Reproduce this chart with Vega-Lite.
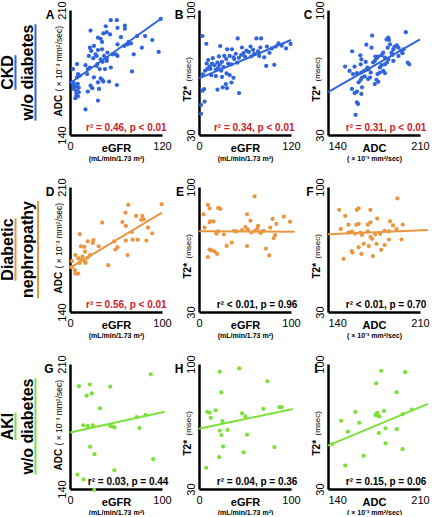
{
  "$schema": "https://vega.github.io/schema/vega-lite/v6.json",
  "background": "white",
  "padding": {"left": -1, "top": 0, "right": 0, "bottom": 0},
  "columns": 4,
  "bounds": "flush",
  "spacing": {"row": 52, "column": 37},
  "datasets": {
    "A": [
      {"x":53.2,"y":204.3},{"x":61.1,"y":204.3},{"x":46.6,"y":200.9},{"x":71.6,"y":201.3},{"x":71.6,"y":199.5},{"x":62,"y":200},{"x":26.8,"y":198.5},{"x":47.9,"y":197.6},{"x":43.5,"y":196.9},{"x":52.3,"y":196.3},{"x":87.5,"y":195.4},{"x":98,"y":195.4},{"x":66.4,"y":194.8},{"x":36.5,"y":194.5},{"x":40,"y":193.9},{"x":107.3,"y":193.2},{"x":41.8,"y":192.1},{"x":76.5,"y":192.1},{"x":79.6,"y":191.3},{"x":62,"y":190.8},{"x":75.2,"y":190.8},{"x":31.2,"y":189.9},{"x":70.8,"y":189.9},{"x":25.9,"y":188.9},{"x":93.7,"y":188.9},{"x":41.8,"y":188},{"x":36.5,"y":187.6},{"x":27.7,"y":187.1},{"x":118.3,"y":205},{"x":115.7,"y":186.5},{"x":48.8,"y":186.2},{"x":83.1,"y":185.2},{"x":33.4,"y":185.2},{"x":55.4,"y":185.2},{"x":59.8,"y":185.2},{"x":24.6,"y":184.3},{"x":44.4,"y":184.3},{"x":34.7,"y":184.3},{"x":62,"y":184.3},{"x":30.3,"y":183},{"x":47.9,"y":183},{"x":40,"y":182.4},{"x":47.9,"y":181.5},{"x":42.6,"y":181},{"x":9.2,"y":179.7},{"x":35.6,"y":179.7},{"x":20.2,"y":179.1},{"x":34.7,"y":178.7},{"x":25.9,"y":177.8},{"x":53.2,"y":177.8},{"x":3.9,"y":176.9},{"x":23.3,"y":176.9},{"x":45.7,"y":176.9},{"x":38.7,"y":176.9},{"x":80.9,"y":175.6},{"x":10.5,"y":174.1},{"x":22.4,"y":174.1},{"x":12.7,"y":173.2},{"x":9.2,"y":172.3},{"x":31.2,"y":172.3},{"x":40,"y":171.7},{"x":42.2,"y":170.8},{"x":43.5,"y":169.9},{"x":51,"y":169.9},{"x":2.6,"y":169.5},{"x":4.8,"y":169},{"x":36.5,"y":169.5},{"x":61.1,"y":168},{"x":10.1,"y":168.6},{"x":4.8,"y":167.6},{"x":7,"y":167.3},{"x":26.8,"y":167.6},{"x":11.4,"y":166.5},{"x":4.8,"y":165.8},{"x":29,"y":166.2},{"x":37.8,"y":165.8},{"x":8.3,"y":164.9},{"x":23.3,"y":164.3},{"x":8.3,"y":163.6},{"x":11.4,"y":164},{"x":8.3,"y":162.1},{"x":10.5,"y":161.7},{"x":7,"y":160.6},{"x":36.5,"y":159.3},{"x":20.2,"y":154.3}
    ],
    "B": [
      {"x":4.5,"y":85.4},{"x":9.5,"y":81.1},{"x":50.5,"y":84.1},{"x":75,"y":84.1},{"x":81,"y":84.1},{"x":27.7,"y":79.8},{"x":36.8,"y":78},{"x":67.3,"y":79.5},{"x":88.6,"y":79.5},{"x":103.6,"y":81.3},{"x":113.6,"y":78.5},{"x":119.5,"y":81},{"x":65,"y":76.5},{"x":61.8,"y":77.2},{"x":70.5,"y":77.7},{"x":58,"y":75.8},{"x":55,"y":74.8},{"x":48,"y":75.5},{"x":45,"y":73.5},{"x":40,"y":74.3},{"x":33,"y":74.3},{"x":35.5,"y":72.5},{"x":46,"y":72.5},{"x":52,"y":73.2},{"x":60,"y":73.8},{"x":77,"y":76.8},{"x":78.5,"y":74.3},{"x":85,"y":73.5},{"x":87.7,"y":68.7},{"x":98.2,"y":69.3},{"x":92,"y":76},{"x":95,"y":78.5},{"x":100,"y":79.5},{"x":108,"y":80},{"x":80,"y":79},{"x":72,"y":75.5},{"x":68,"y":74},{"x":30,"y":71},{"x":27,"y":69.5},{"x":24,"y":70.5},{"x":20,"y":69},{"x":17,"y":70},{"x":14,"y":68.5},{"x":11,"y":67},{"x":8,"y":66},{"x":5,"y":64},{"x":10,"y":70},{"x":15,"y":67},{"x":22,"y":66.5},{"x":25,"y":67.8},{"x":29,"y":66},{"x":32,"y":68},{"x":38,"y":70},{"x":42,"y":69.5},{"x":50,"y":70.5},{"x":16,"y":63.5},{"x":22,"y":63},{"x":30,"y":62.5},{"x":40,"y":63.5},{"x":36,"y":64.5},{"x":45,"y":62},{"x":6.8,"y":55.7},{"x":4.5,"y":54.8},{"x":24.1,"y":55.4},{"x":30.9,"y":56.7},{"x":36.4,"y":56.2},{"x":42.3,"y":59.4},{"x":35,"y":58.5},{"x":52.3,"y":53.5},{"x":7.3,"y":48.7},{"x":2.7,"y":46.9},{"x":2.7,"y":41.9},{"x":12,"y":72},{"x":18,"y":73},{"x":26,"y":74},{"x":43,"y":78},{"x":56,"y":79}
    ],
    "C": [
      {"x":173.6,"y":85.7},{"x":199.2,"y":87.6},{"x":185.9,"y":84.5},{"x":184.6,"y":83.5},{"x":186.4,"y":83.2},{"x":169.2,"y":80.6},{"x":173.1,"y":78.9},{"x":158.4,"y":76.9},{"x":189.7,"y":78},{"x":192.3,"y":80.2},{"x":190.5,"y":79.3},{"x":193.6,"y":78.9},{"x":182,"y":76.1},{"x":188.4,"y":76.1},{"x":189,"y":74.8},{"x":195.6,"y":77.1},{"x":196.7,"y":75.8},{"x":164.6,"y":74.6},{"x":176.1,"y":73.9},{"x":178.2,"y":73.9},{"x":180.7,"y":74.6},{"x":176.9,"y":72.8},{"x":183.3,"y":73.3},{"x":165.4,"y":72.4},{"x":185.9,"y":72.4},{"x":189.7,"y":71.5},{"x":175.6,"y":71.5},{"x":200.7,"y":70.6},{"x":201.8,"y":69.6},{"x":153,"y":68.3},{"x":160.2,"y":68.3},{"x":164.9,"y":69.6},{"x":180.7,"y":69.1},{"x":183.3,"y":69.6},{"x":184.9,"y":70.6},{"x":170,"y":67.8},{"x":169.2,"y":66.5},{"x":167.4,"y":65.9},{"x":171,"y":66.9},{"x":159,"y":64.1},{"x":162,"y":64.6},{"x":165.4,"y":65},{"x":179.5,"y":65},{"x":177.7,"y":64.1},{"x":182,"y":65.9},{"x":183.3,"y":64.6},{"x":165.9,"y":62.2},{"x":164.9,"y":60.9},{"x":168,"y":62.8},{"x":176.9,"y":60.9},{"x":178.2,"y":59.8},{"x":175.6,"y":58.5},{"x":158.2,"y":55.8},{"x":162,"y":54.3},{"x":160.2,"y":53.5},{"x":165.9,"y":56.7},{"x":170.5,"y":61.3},{"x":172,"y":62.2},{"x":162,"y":48.3},{"x":162.8,"y":47.4},{"x":161,"y":41.3},{"x":165.4,"y":53},{"x":174.3,"y":70.6},{"x":187.2,"y":80.8},{"x":193.6,"y":74.3},{"x":179.5,"y":67.8},{"x":172.5,"y":65},{"x":163.3,"y":59.5},{"x":197.4,"y":78},{"x":185.4,"y":78.9},{"x":168.7,"y":70.9},{"x":156.4,"y":65.9}
    ],
    "D": [
      {"x":99.6,"y":200.4},{"x":63.3,"y":200},{"x":60.3,"y":195.7},{"x":71.9,"y":193.8},{"x":78.6,"y":193.8},{"x":80,"y":191.9},{"x":77.5,"y":191.6},{"x":35,"y":190.1},{"x":57,"y":190.4},{"x":60.7,"y":188.2},{"x":67.4,"y":184.8},{"x":84.8,"y":187.3},{"x":89.3,"y":184.1},{"x":10.7,"y":183.6},{"x":68.1,"y":180.5},{"x":73.7,"y":180.5},{"x":83,"y":180},{"x":60.7,"y":180},{"x":25.6,"y":180.3},{"x":19.3,"y":179.5},{"x":48,"y":179.5},{"x":51.6,"y":176.3},{"x":31.1,"y":176.8},{"x":15.6,"y":176.5},{"x":11.9,"y":176.8},{"x":24.8,"y":178.7},{"x":16.3,"y":173.8},{"x":21.9,"y":171.9},{"x":5.9,"y":171.9},{"x":62.6,"y":171.9},{"x":49.3,"y":175},{"x":41.5,"y":166.2},{"x":11.9,"y":169.2},{"x":9,"y":170},{"x":13.5,"y":171},{"x":10.5,"y":167.5},{"x":2.2,"y":168.5},{"x":1.5,"y":165.1},{"x":5.2,"y":163.4},{"x":8.9,"y":161.5},{"x":6,"y":161.5},{"x":16.3,"y":168.3},{"x":19,"y":170.5},{"x":17,"y":167.5}
    ],
    "E": [
      {"x":60.4,"y":94.7},{"x":9.6,"y":90},{"x":11.5,"y":88},{"x":20.9,"y":88.3},{"x":23.3,"y":87.8},{"x":5,"y":84.7},{"x":52.2,"y":84.7},{"x":92.2,"y":83.4},{"x":99,"y":80.6},{"x":80,"y":82.1},{"x":55.9,"y":81.1},{"x":12.2,"y":80.7},{"x":15.9,"y":80.7},{"x":11.5,"y":80.2},{"x":6,"y":77.3},{"x":64.2,"y":78.3},{"x":63.5,"y":76.8},{"x":77.4,"y":77.3},{"x":84.1,"y":79.4},{"x":50.4,"y":77.6},{"x":53,"y":76.3},{"x":46.7,"y":75.8},{"x":40.4,"y":75.2},{"x":38.1,"y":75.5},{"x":20.8,"y":75.2},{"x":18.9,"y":73.9},{"x":27,"y":73.4},{"x":35.6,"y":68.9},{"x":30.1,"y":67},{"x":52.2,"y":66.9},{"x":57,"y":74.5},{"x":61,"y":75.5},{"x":67,"y":74.2},{"x":70,"y":75.5},{"x":66.5,"y":74.8},{"x":82.6,"y":73},{"x":81.1,"y":71.3},{"x":72.6,"y":65.5},{"x":76.3,"y":61.7},{"x":11.5,"y":65},{"x":13.3,"y":64.5},{"x":17,"y":63.9},{"x":19.6,"y":62.6},{"x":9.6,"y":60.8}
    ],
    "F": [
      {"x":192.8,"y":93.6},{"x":148.5,"y":87.2},{"x":163.3,"y":88.1},{"x":162,"y":87.2},{"x":153.1,"y":83.8},{"x":172.3,"y":87.2},{"x":177.4,"y":82.3},{"x":187.2,"y":80.8},{"x":149.7,"y":76.5},{"x":155.6,"y":78.9},{"x":163.3,"y":79.4},{"x":161.6,"y":78.9},{"x":170.3,"y":78.9},{"x":172.3,"y":80.2},{"x":196.8,"y":78.9},{"x":189.5,"y":78.5},{"x":192.1,"y":76.4},{"x":186.4,"y":75.2},{"x":183.1,"y":75.5},{"x":158.2,"y":75},{"x":160.7,"y":73.9},{"x":164.6,"y":74.5},{"x":165.9,"y":73.1},{"x":155.6,"y":74.5},{"x":170.3,"y":75.2},{"x":175.9,"y":73.4},{"x":179.7,"y":73.8},{"x":186.4,"y":70.6},{"x":195.9,"y":70.6},{"x":172.3,"y":72},{"x":173.6,"y":71},{"x":167.2,"y":68.2},{"x":171,"y":66.9},{"x":176.9,"y":68.2},{"x":158.2,"y":64.1},{"x":158.7,"y":63.3},{"x":165.4,"y":62.6},{"x":174.2,"y":61.3},{"x":151.9,"y":59.8},{"x":183.1,"y":67.5},{"x":180.5,"y":64.8},{"x":163.3,"y":66.2}
    ],
    "G": [
      {"x":87.8,"y":204.2},{"x":9.7,"y":197.6},{"x":21.5,"y":198.5},{"x":43.7,"y":197.3},{"x":18.1,"y":192.3},{"x":23.7,"y":193.5},{"x":32.6,"y":185.2},{"x":14.4,"y":175.7},{"x":19.3,"y":175.3},{"x":24.8,"y":175.7},{"x":43.7,"y":175.3},{"x":45.6,"y":175.1},{"x":48.5,"y":174.5},{"x":72.6,"y":180.3},{"x":82.2,"y":181.5},{"x":75.6,"y":174.1},{"x":21.9,"y":163.6},{"x":26.7,"y":159.5},{"x":90.4,"y":156.7},{"x":48.2,"y":150.5},{"x":8.1,"y":148},{"x":14.8,"y":145.4},{"x":26.3,"y":139.5}
    ],
    "H": [
      {"x":22.6,"y":95.7},{"x":43.7,"y":97.5},{"x":74.4,"y":90.3},{"x":24.4,"y":84.1},{"x":8.9,"y":73.2},{"x":11.5,"y":72.7},{"x":18.1,"y":74.1},{"x":12.8,"y":69.8},{"x":25.6,"y":68},{"x":46.7,"y":72.4},{"x":50.4,"y":70.7},{"x":70,"y":74.9},{"x":87.4,"y":75.8},{"x":90,"y":75.8},{"x":22.6,"y":62.7},{"x":24.4,"y":60.2},{"x":31.1,"y":63.1},{"x":52.2,"y":60.4},{"x":26.3,"y":53.9},{"x":48.5,"y":50.5},{"x":81.9,"y":53.5},{"x":21.9,"y":47.8},{"x":7.8,"y":41.9}
    ],
    "I": [
      {"x":180.5,"y":96.2},{"x":198.7,"y":95.4},{"x":176.7,"y":89.2},{"x":192.1,"y":84.2},{"x":160.8,"y":73.2},{"x":150,"y":68.2},{"x":163.8,"y":67.1},{"x":155.1,"y":62.1},{"x":143.3,"y":55.2},{"x":177.4,"y":72.7},{"x":178.2,"y":70.9},{"x":176.1,"y":71.5},{"x":179.2,"y":70.6},{"x":182.6,"y":73.7},{"x":196.7,"y":71.9},{"x":203.8,"y":74.5},{"x":183.8,"y":64},{"x":192.3,"y":63.5},{"x":178.7,"y":61.3},{"x":183.8,"y":55.6},{"x":196.7,"y":52.3},{"x":167.2,"y":48.6},{"x":153.1,"y":43.1}
    ],
    "A_fit": [{"x":0,"y":169},{"x":120,"y":205.5}],
    "B_fit": [{"x":0,"y":61.7},{"x":120,"y":83.2}],
    "C_fit": [{"x":140,"y":54},{"x":210,"y":83.5}],
    "D_fit": [{"x":0,"y":164.7},{"x":100,"y":195.7}],
    "E_fit": [{"x":0,"y":75.2},{"x":104,"y":74.9}],
    "F_fit": [{"x":140,"y":73.5},{"x":216,"y":75.9}],
    "G_fit": [{"x":0,"y":171.6},{"x":103,"y":183.3}],
    "H_fit": [{"x":0,"y":63.7},{"x":102,"y":74.8}],
    "I_fit": [{"x":140,"y":54.3},{"x":216,"y":77.7}]
  },
  "concat": [
    {
      "width": 20, "height": 125,
      "layer": [
        {"data": {"values": [{"line": "1", "text": "CKD"}, {"line": "2", "text": "w/o diabetes"}]},
         "mark": {"type": "text", "angle": 270, "align": "center", "baseline": "alphabetic", "fontSize": 16, "fontWeight": "bold", "color": "#000"},
         "encoding": {"x": {"field": "line", "type": "ordinal", "scale": {"type": "point", "domain": ["1", "2"], "padding": 0}, "axis": null},
                      "y": {"datum": 50, "type": "quantitative", "scale": {"domain": [0, 100]}, "axis": null},
                      "text": {"field": "text"}}},
        {"data": {"values": [{"u": 1}]},
         "mark": {"type": "rule", "color": "#2f64dc", "strokeWidth": 2, "xOffset": 2.5},
         "encoding": {"x": {"datum": "1", "type": "ordinal", "axis": null}, "y": {"datum": 36.2, "type": "quantitative", "axis": null}, "y2": {"datum": 63.8}}},
        {"data": {"values": [{"u": 1}]},
         "mark": {"type": "rule", "color": "#2f64dc", "strokeWidth": 2, "xOffset": 2.5},
         "encoding": {"x": {"datum": "2", "type": "ordinal", "axis": null}, "y": {"datum": 11.5, "type": "quantitative", "axis": null}, "y2": {"datum": 88.5}}}
      ]
    },
    {
      "width": 92, "height": 125, "title": "A",
      "layer": [
        {"data": {"name": "A"}, "mark": {"type": "circle", "size": 18, "opacity": 1, "color": "#2f64dc"},
         "encoding": {
           "x": {"field": "x", "type": "quantitative", "scale": {"domain": [0, 120], "nice": false, "zero": false}, "axis": {"orient": "bottom", "values": [0, 120], "title": "eGFR", "titleY": 16}},
           "y": {"field": "y", "type": "quantitative", "scale": {"domain": [140, 210], "nice": false, "zero": false}, "axis": {"orient": "left", "values": [140, 210], "title": "ADC", "titleY": 106}}}},
        {"data": {"name": "A_fit"}, "mark": {"type": "line", "color": "#2f64dc", "strokeWidth": 2},
         "encoding": {
           "x": {"field": "x", "type": "quantitative", "axis": {"orient": "bottom", "labels": false, "domain": false, "title": "(mL/min/1.73 m²)", "titleY": 25, "titleFontSize": 7}},
           "y": {"field": "y", "type": "quantitative", "axis": {"orient": "left", "labels": false, "domain": false, "title": "( × 10⁻³ mm²/sec)", "titleY": 81, "titleFontSize": 8.5, "titleFontWeight": "normal"}}}},
        {"data": {"values": [{"t": "r² = 0.46, p < 0.01"}]}, "mark": {"type": "text", "align": "right", "baseline": "alphabetic", "fontSize": 10, "fontWeight": "bold", "color": "#d0202a"},
         "encoding": {"x": {"datum": 126, "type": "quantitative", "axis": null}, "y": {"datum": 142.3, "type": "quantitative", "axis": null}, "text": {"field": "t"}}}
      ],
      "resolve": {"axis": {"x": "independent", "y": "independent"}}
    },
    {
      "width": 92, "height": 125, "title": "B",
      "layer": [
        {"data": {"name": "B"}, "mark": {"type": "circle", "size": 18, "opacity": 1, "color": "#2f64dc"},
         "encoding": {
           "x": {"field": "x", "type": "quantitative", "scale": {"domain": [0, 120], "nice": false, "zero": false}, "axis": {"orient": "bottom", "values": [0, 120], "title": "eGFR", "titleY": 16}},
           "y": {"field": "y", "type": "quantitative", "scale": {"domain": [30, 100], "nice": false, "zero": false}, "axis": {"orient": "left", "values": [30, 100], "title": "T2*", "titleY": 91}}}},
        {"data": {"name": "B_fit"}, "mark": {"type": "line", "color": "#2f64dc", "strokeWidth": 2},
         "encoding": {
           "x": {"field": "x", "type": "quantitative", "axis": {"orient": "bottom", "labels": false, "domain": false, "title": "(mL/min/1.73 m²)", "titleY": 25, "titleFontSize": 7}},
           "y": {"field": "y", "type": "quantitative", "axis": {"orient": "left", "labels": false, "domain": false, "title": "(msec)", "titleY": 71, "titleFontSize": 8, "titleFontWeight": "normal"}}}},
        {"data": {"values": [{"t": "r² = 0.34, p < 0.01"}]}, "mark": {"type": "text", "align": "right", "baseline": "alphabetic", "fontSize": 10, "fontWeight": "bold", "color": "#d0202a"},
         "encoding": {"x": {"datum": 124.6, "type": "quantitative", "axis": null}, "y": {"datum": 32.3, "type": "quantitative", "axis": null}, "text": {"field": "t"}}}
      ],
      "resolve": {"axis": {"x": "independent", "y": "independent"}}
    },
    {
      "width": 92, "height": 125, "title": "C",
      "layer": [
        {"data": {"name": "C"}, "mark": {"type": "circle", "size": 18, "opacity": 1, "color": "#2f64dc"},
         "encoding": {
           "x": {"field": "x", "type": "quantitative", "scale": {"domain": [140, 210], "nice": false, "zero": false}, "axis": {"orient": "bottom", "values": [140, 210], "title": "ADC", "titleY": 16, "labelAlign": {"condition": {"test": "datum.value == 140", "value": "left"}, "value": "center"}}},
           "y": {"field": "y", "type": "quantitative", "scale": {"domain": [30, 100], "nice": false, "zero": false}, "axis": {"orient": "left", "values": [30, 100], "title": "T2*", "titleY": 91}}}},
        {"data": {"name": "C_fit"}, "mark": {"type": "line", "color": "#2f64dc", "strokeWidth": 2},
         "encoding": {
           "x": {"field": "x", "type": "quantitative", "axis": {"orient": "bottom", "labels": false, "domain": false, "title": "( × 10⁻³ mm²/sec)", "titleY": 25, "titleFontSize": 7}},
           "y": {"field": "y", "type": "quantitative", "axis": {"orient": "left", "labels": false, "domain": false, "title": "(msec)", "titleY": 71, "titleFontSize": 8, "titleFontWeight": "normal"}}}},
        {"data": {"values": [{"t": "r² = 0.31, p < 0.01"}]}, "mark": {"type": "text", "align": "right", "baseline": "alphabetic", "fontSize": 10, "fontWeight": "bold", "color": "#d0202a"},
         "encoding": {"x": {"datum": 214.9, "type": "quantitative", "axis": null}, "y": {"datum": 32.3, "type": "quantitative", "axis": null}, "text": {"field": "t"}}}
      ],
      "resolve": {"axis": {"x": "independent", "y": "independent"}}
    },
    {
      "width": 20, "height": 125,
      "layer": [
        {"data": {"values": [{"line": "1", "text": "Diabetic"}, {"line": "2", "text": "nephropathy"}]},
         "mark": {"type": "text", "angle": 270, "align": "center", "baseline": "alphabetic", "fontSize": 16, "fontWeight": "bold", "color": "#000"},
         "encoding": {"x": {"field": "line", "type": "ordinal", "scale": {"type": "point", "domain": ["1", "2"], "padding": 0}, "axis": null},
                      "y": {"datum": 50, "type": "quantitative", "scale": {"domain": [0, 100]}, "axis": null},
                      "text": {"field": "text"}}},
        {"data": {"values": [{"u": 1}]},
         "mark": {"type": "rule", "color": "#ea9640", "strokeWidth": 2, "xOffset": 2.5},
         "encoding": {"x": {"datum": "1", "type": "ordinal", "axis": null}, "y": {"datum": 25, "type": "quantitative", "axis": null}, "y2": {"datum": 75}}},
        {"data": {"values": [{"u": 1}]},
         "mark": {"type": "rule", "color": "#ea9640", "strokeWidth": 2, "xOffset": 5},
         "encoding": {"x": {"datum": "2", "type": "ordinal", "axis": null}, "y": {"datum": 11.1, "type": "quantitative", "axis": null}, "y2": {"datum": 88.9}}}
      ]
    },
    {
      "width": 92, "height": 125, "title": "D",
      "layer": [
        {"data": {"name": "D"}, "mark": {"type": "circle", "size": 18, "opacity": 1, "color": "#ea9640"},
         "encoding": {
           "x": {"field": "x", "type": "quantitative", "scale": {"domain": [0, 100], "nice": false, "zero": false}, "axis": {"orient": "bottom", "values": [0, 100], "title": "eGFR", "titleY": 16}},
           "y": {"field": "y", "type": "quantitative", "scale": {"domain": [140, 210], "nice": false, "zero": false}, "axis": {"orient": "left", "values": [140, 210], "title": "ADC", "titleY": 106}}}},
        {"data": {"name": "D_fit"}, "mark": {"type": "line", "color": "#ea9640", "strokeWidth": 2},
         "encoding": {
           "x": {"field": "x", "type": "quantitative", "axis": {"orient": "bottom", "labels": false, "domain": false, "title": "(mL/min/1.73 m²)", "titleY": 25, "titleFontSize": 7}},
           "y": {"field": "y", "type": "quantitative", "axis": {"orient": "left", "labels": false, "domain": false, "title": "( × 10⁻³ mm²/sec)", "titleY": 81, "titleFontSize": 8.5, "titleFontWeight": "normal"}}}},
        {"data": {"values": [{"t": "r² = 0.56, p < 0.01"}]}, "mark": {"type": "text", "align": "right", "baseline": "alphabetic", "fontSize": 10, "fontWeight": "bold", "color": "#d0202a"},
         "encoding": {"x": {"datum": 105, "type": "quantitative", "axis": null}, "y": {"datum": 142.3, "type": "quantitative", "axis": null}, "text": {"field": "t"}}}
      ],
      "resolve": {"axis": {"x": "independent", "y": "independent"}}
    },
    {
      "width": 92, "height": 125, "title": "E",
      "layer": [
        {"data": {"name": "E"}, "mark": {"type": "circle", "size": 18, "opacity": 1, "color": "#ea9640"},
         "encoding": {
           "x": {"field": "x", "type": "quantitative", "scale": {"domain": [0, 100], "nice": false, "zero": false}, "axis": {"orient": "bottom", "values": [0, 100], "title": "eGFR", "titleY": 16}},
           "y": {"field": "y", "type": "quantitative", "scale": {"domain": [30, 100], "nice": false, "zero": false}, "axis": {"orient": "left", "values": [30, 100], "title": "T2*", "titleY": 91}}}},
        {"data": {"name": "E_fit"}, "mark": {"type": "line", "color": "#ea9640", "strokeWidth": 2},
         "encoding": {
           "x": {"field": "x", "type": "quantitative", "axis": {"orient": "bottom", "labels": false, "domain": false, "title": "(mL/min/1.73 m²)", "titleY": 25, "titleFontSize": 7}},
           "y": {"field": "y", "type": "quantitative", "axis": {"orient": "left", "labels": false, "domain": false, "title": "(msec)", "titleY": 71, "titleFontSize": 8, "titleFontWeight": "normal"}}}},
        {"data": {"values": [{"t": "r² < 0.01, p = 0.96"}]}, "mark": {"type": "text", "align": "right", "baseline": "alphabetic", "fontSize": 10, "fontWeight": "bold", "color": "#000"},
         "encoding": {"x": {"datum": 107, "type": "quantitative", "axis": null}, "y": {"datum": 32.3, "type": "quantitative", "axis": null}, "text": {"field": "t"}}}
      ],
      "resolve": {"axis": {"x": "independent", "y": "independent"}}
    },
    {
      "width": 92, "height": 125, "title": "F",
      "layer": [
        {"data": {"name": "F"}, "mark": {"type": "circle", "size": 18, "opacity": 1, "color": "#ea9640"},
         "encoding": {
           "x": {"field": "x", "type": "quantitative", "scale": {"domain": [140, 210], "nice": false, "zero": false}, "axis": {"orient": "bottom", "values": [140, 210], "title": "ADC", "titleY": 16, "labelAlign": {"condition": {"test": "datum.value == 140", "value": "left"}, "value": "center"}}},
           "y": {"field": "y", "type": "quantitative", "scale": {"domain": [30, 100], "nice": false, "zero": false}, "axis": {"orient": "left", "values": [30, 100], "title": "T2*", "titleY": 91}}}},
        {"data": {"name": "F_fit"}, "mark": {"type": "line", "color": "#ea9640", "strokeWidth": 2},
         "encoding": {
           "x": {"field": "x", "type": "quantitative", "axis": {"orient": "bottom", "labels": false, "domain": false, "title": "( × 10⁻³ mm²/sec)", "titleY": 25, "titleFontSize": 7}},
           "y": {"field": "y", "type": "quantitative", "axis": {"orient": "left", "labels": false, "domain": false, "title": "(msec)", "titleY": 71, "titleFontSize": 8, "titleFontWeight": "normal"}}}},
        {"data": {"values": [{"t": "r² < 0.01, p = 0.70"}]}, "mark": {"type": "text", "align": "right", "baseline": "alphabetic", "fontSize": 10, "fontWeight": "bold", "color": "#000"},
         "encoding": {"x": {"datum": 214.9, "type": "quantitative", "axis": null}, "y": {"datum": 32.3, "type": "quantitative", "axis": null}, "text": {"field": "t"}}}
      ],
      "resolve": {"axis": {"x": "independent", "y": "independent"}}
    },
    {
      "width": 20, "height": 125,
      "layer": [
        {"data": {"values": [{"line": "1", "text": "AKI"}, {"line": "2", "text": "w/o diabetes"}]},
         "mark": {"type": "text", "angle": 270, "align": "center", "baseline": "alphabetic", "fontSize": 16, "fontWeight": "bold", "color": "#000"},
         "encoding": {"x": {"field": "line", "type": "ordinal", "scale": {"type": "point", "domain": ["1", "2"], "padding": 0}, "axis": null},
                      "y": {"datum": 50, "type": "quantitative", "scale": {"domain": [0, 100]}, "axis": null},
                      "text": {"field": "text"}}},
        {"data": {"values": [{"u": 1}]},
         "mark": {"type": "rule", "color": "#7de03a", "strokeWidth": 2, "xOffset": 2.5},
         "encoding": {"x": {"datum": "1", "type": "ordinal", "axis": null}, "y": {"datum": 39, "type": "quantitative", "axis": null}, "y2": {"datum": 61}}},
        {"data": {"values": [{"u": 1}]},
         "mark": {"type": "rule", "color": "#7de03a", "strokeWidth": 2, "xOffset": 2.5},
         "encoding": {"x": {"datum": "2", "type": "ordinal", "axis": null}, "y": {"datum": 11.5, "type": "quantitative", "axis": null}, "y2": {"datum": 88.5}}}
      ]
    },
    {
      "width": 92, "height": 125, "title": "G",
      "layer": [
        {"data": {"name": "G"}, "mark": {"type": "circle", "size": 18, "opacity": 1, "color": "#7de03a"},
         "encoding": {
           "x": {"field": "x", "type": "quantitative", "scale": {"domain": [0, 100], "nice": false, "zero": false}, "axis": {"orient": "bottom", "values": [0, 100], "title": "eGFR", "titleY": 16}},
           "y": {"field": "y", "type": "quantitative", "scale": {"domain": [140, 210], "nice": false, "zero": false}, "axis": {"orient": "left", "values": [140, 210], "title": "ADC", "titleY": 106}}}},
        {"data": {"name": "G_fit"}, "mark": {"type": "line", "color": "#7de03a", "strokeWidth": 2},
         "encoding": {
           "x": {"field": "x", "type": "quantitative", "axis": {"orient": "bottom", "labels": false, "domain": false, "title": "(mL/min/1.73 m²)", "titleY": 25, "titleFontSize": 7}},
           "y": {"field": "y", "type": "quantitative", "axis": {"orient": "left", "labels": false, "domain": false, "title": "( × 10⁻³ mm²/sec)", "titleY": 81, "titleFontSize": 8.5, "titleFontWeight": "normal"}}}},
        {"data": {"values": [{"t": "r² = 0.03, p = 0.44"}]}, "mark": {"type": "text", "align": "right", "baseline": "alphabetic", "fontSize": 10, "fontWeight": "bold", "color": "#000"},
         "encoding": {"x": {"datum": 107, "type": "quantitative", "axis": null}, "y": {"datum": 142.3, "type": "quantitative", "axis": null}, "text": {"field": "t"}}}
      ],
      "resolve": {"axis": {"x": "independent", "y": "independent"}}
    },
    {
      "width": 92, "height": 125, "title": "H",
      "layer": [
        {"data": {"name": "H"}, "mark": {"type": "circle", "size": 18, "opacity": 1, "color": "#7de03a"},
         "encoding": {
           "x": {"field": "x", "type": "quantitative", "scale": {"domain": [0, 100], "nice": false, "zero": false}, "axis": {"orient": "bottom", "values": [0, 100], "title": "eGFR", "titleY": 16}},
           "y": {"field": "y", "type": "quantitative", "scale": {"domain": [30, 100], "nice": false, "zero": false}, "axis": {"orient": "left", "values": [30, 100], "title": "T2*", "titleY": 91}}}},
        {"data": {"name": "H_fit"}, "mark": {"type": "line", "color": "#7de03a", "strokeWidth": 2},
         "encoding": {
           "x": {"field": "x", "type": "quantitative", "axis": {"orient": "bottom", "labels": false, "domain": false, "title": "(mL/min/1.73 m²)", "titleY": 25, "titleFontSize": 7}},
           "y": {"field": "y", "type": "quantitative", "axis": {"orient": "left", "labels": false, "domain": false, "title": "(msec)", "titleY": 71, "titleFontSize": 8, "titleFontWeight": "normal"}}}},
        {"data": {"values": [{"t": "r² = 0.04, p = 0.36"}]}, "mark": {"type": "text", "align": "right", "baseline": "alphabetic", "fontSize": 10, "fontWeight": "bold", "color": "#000"},
         "encoding": {"x": {"datum": 107, "type": "quantitative", "axis": null}, "y": {"datum": 32.3, "type": "quantitative", "axis": null}, "text": {"field": "t"}}}
      ],
      "resolve": {"axis": {"x": "independent", "y": "independent"}}
    },
    {
      "width": 92, "height": 125, "title": "I",
      "layer": [
        {"data": {"name": "I"}, "mark": {"type": "circle", "size": 18, "opacity": 1, "color": "#7de03a"},
         "encoding": {
           "x": {"field": "x", "type": "quantitative", "scale": {"domain": [140, 210], "nice": false, "zero": false}, "axis": {"orient": "bottom", "values": [140, 210], "title": "ADC", "titleY": 16, "labelAlign": {"condition": {"test": "datum.value == 140", "value": "left"}, "value": "center"}}},
           "y": {"field": "y", "type": "quantitative", "scale": {"domain": [30, 100], "nice": false, "zero": false}, "axis": {"orient": "left", "values": [30, 100], "title": "T2*", "titleY": 91}}}},
        {"data": {"name": "I_fit"}, "mark": {"type": "line", "color": "#7de03a", "strokeWidth": 2},
         "encoding": {
           "x": {"field": "x", "type": "quantitative", "axis": {"orient": "bottom", "labels": false, "domain": false, "title": "( × 10⁻³ mm²/sec)", "titleY": 25, "titleFontSize": 7}},
           "y": {"field": "y", "type": "quantitative", "axis": {"orient": "left", "labels": false, "domain": false, "title": "(msec)", "titleY": 71, "titleFontSize": 8, "titleFontWeight": "normal"}}}},
        {"data": {"values": [{"t": "r² = 0.15, p = 0.06"}]}, "mark": {"type": "text", "align": "right", "baseline": "alphabetic", "fontSize": 10, "fontWeight": "bold", "color": "#000"},
         "encoding": {"x": {"datum": 214.9, "type": "quantitative", "axis": null}, "y": {"datum": 32.3, "type": "quantitative", "axis": null}, "text": {"field": "t"}}}
      ],
      "resolve": {"axis": {"x": "independent", "y": "independent"}}
    }
  ],
  "config": {
    "font": "Liberation Sans",
    "view": {"stroke": null},
    "title": {"orient": "left", "anchor": "end", "angle": 0, "align": "right", "baseline": "top", "fontSize": 12, "fontWeight": "bold", "offset": -10, "frame": "group", "color": "#000", "font": "Liberation Sans"},
    "axis": {"domainColor": "#000", "domainWidth": 2.5, "ticks": false, "tickSize": 0, "grid": false, "labelColor": "#000", "titleColor": "#000", "labelFont": "Liberation Sans", "titleFont": "Liberation Sans", "labelFontSize": 11, "titleFontSize": 11, "titleFontWeight": "bold", "labelFlush": false, "labelOverlap": false},
    "axisX": {"labelAngle": 0, "labelBaseline": "alphabetic", "labelPadding": 14, "titleBaseline": "alphabetic", "titleAlign": "center"},
    "axisY": {"labelAngle": 270, "labelAlign": "center", "labelBaseline": "alphabetic", "labelPadding": 5, "titleAngle": 270, "titleAlign": "left", "titleBaseline": "alphabetic", "titleX": -9, "titleFontSize": 10}
  }
}
